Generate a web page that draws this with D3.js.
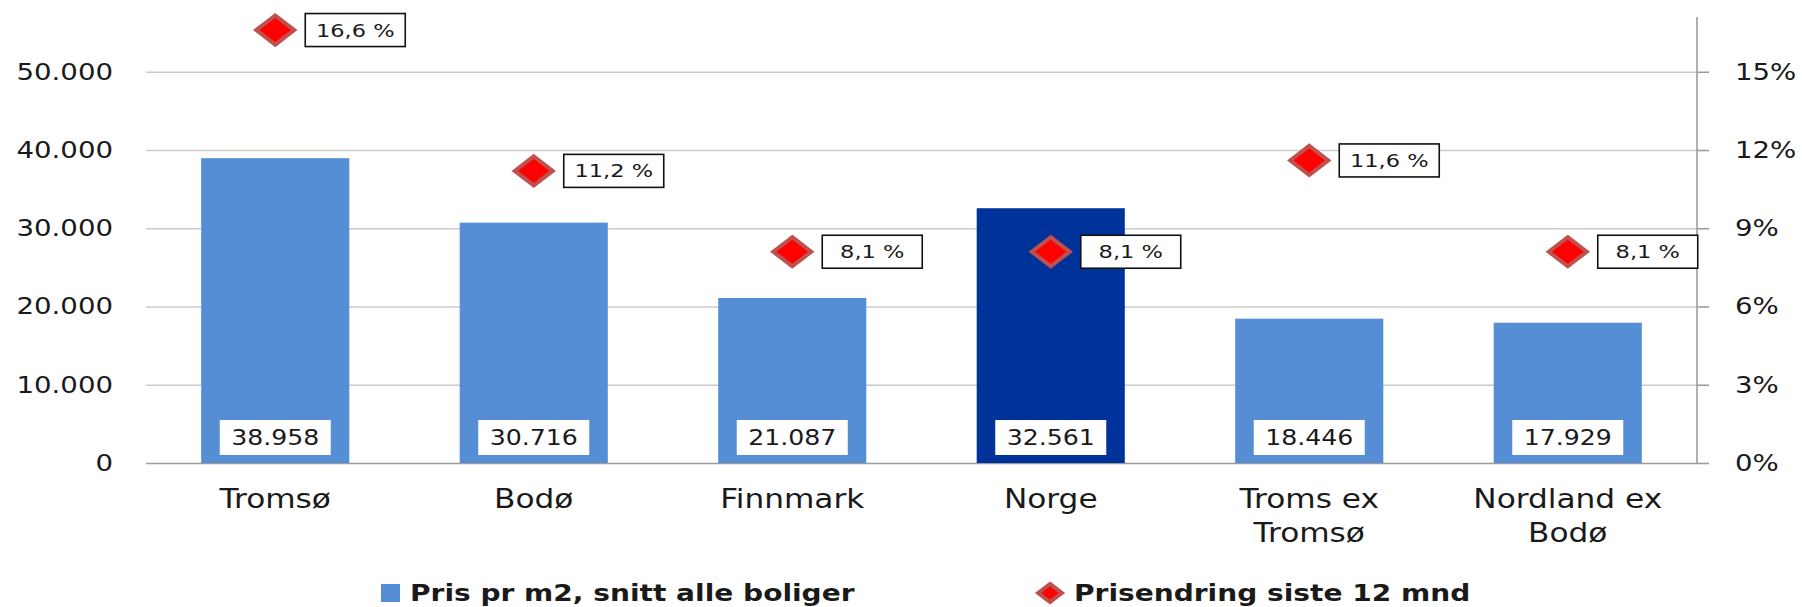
<!DOCTYPE html>
<html>
<head>
<meta charset="utf-8">
<script src="https://cdn.jsdelivr.net/npm/d3@7"></script>
<style>
  html, body { margin: 0; padding: 0; background: #fff; }
  svg { display: block; }
  text { fill: #1a1a1a; }
</style>
</head>
<body>
<svg id="chart" width="1802" height="607"></svg>
<script>
// data
const categories = ["Tromsø", "Bodø", "Finnmark", "Norge", "Troms ex\nTromsø", "Nordland ex\nBodø"];
const prices = [38958, 30716, 21087, 32561, 18446, 17929];
const changes = [0.166, 0.112, 0.081, 0.081, 0.116, 0.081];
const highlight = ["Norge"];
const leftTicks = [0, 10000, 20000, 30000, 40000, 50000];
const rightTicks = [0, 0.03, 0.06, 0.09, 0.12, 0.15];
const legendLabels = ["Pris pr m2, snitt alle boliger", "Prisendring siste 12 mnd"];

const W = 1802, H = 607;
const m = { left: 146, right: W - 1697, top: 17, bottom: H - 463 };
const svg = d3.select("#chart");

const BAR = "#558ed5", BAR_HI = "#003399";
const DIA_FILL = "#ff0000", DIA_STROKE = "#c0504d";
const SX = 1.2; // reference is stretched sideways

const locale = d3.formatLocale({ decimal: ",", thousands: ".", grouping: [3], currency: ["", " kr"] });
const fmtNum = locale.format(",d");
const fmtPct = locale.format(".1f");

const x = d3.scaleBand().domain(categories)
    .range([m.left, W - m.right]).paddingInner(0.427).paddingOuter(0.2135);
const y = d3.scaleLinear().domain([0, 57000]).range([H - m.bottom, m.top]);
const yR = d3.scaleLinear().domain([0, 0.171]).range([H - m.bottom, m.top]);

// left axis with gridlines
const gL = svg.append("g").attr("transform", `translate(${m.left},0)`)
    .call(d3.axisLeft(y).tickValues(leftTicks).tickFormat(fmtNum)
        .tickSize(-(W - m.left - m.right)).tickPadding(33));
gL.select(".domain").remove();
gL.selectAll(".tick line").attr("stroke", d => d === 0 ? "#9c9c9c" : "#cacaca").attr("stroke-width", 1.6);
gL.selectAll(".tick text")
    .attr("font-family", "DejaVu Sans").attr("font-size", 23)
    .attr("x", -33 / SX).attr("transform", `scale(${SX},1)`);

// right axis
const gR = svg.append("g").attr("transform", `translate(${W - m.right},0)`)
    .call(d3.axisRight(yR).tickValues(rightTicks).tickFormat(d3.format(".0%"))
        .tickSize(12).tickSizeOuter(0).tickPadding(26));
gR.select(".domain").attr("stroke", "#9c9c9c").attr("stroke-width", 1.6)
    .attr("d", `M0,${m.top}V${H - m.bottom}`);
gR.selectAll(".tick line").attr("stroke", "#9c9c9c").attr("stroke-width", 1.6);
gR.selectAll(".tick text")
    .attr("font-family", "DejaVu Sans").attr("font-size", 23)
    .attr("x", 38 / SX).attr("transform", `scale(${SX},1)`);
svg.selectAll(".tick text").attr("fill", "#1a1a1a");

// bars
const rows = categories.map((c, i) => ({ c, price: prices[i], change: changes[i] }));
svg.append("g").selectAll("rect").data(rows).join("rect")
    .attr("x", d => x(d.c)).attr("width", x.bandwidth())
    .attr("y", d => y(d.price)).attr("height", d => y(0) - y(d.price))
    .attr("fill", d => highlight.includes(d.c) ? BAR_HI : BAR);

// value boxes inside the bars
const vb = svg.append("g").selectAll("g").data(rows).join("g")
    .attr("transform", d => `translate(${x(d.c) + x.bandwidth() / 2},${y(0) - 8 - 17.5})`);
vb.append("rect").attr("x", -55.5).attr("y", -17.5).attr("width", 111).attr("height", 35).attr("fill", "#fff");
vb.append("text").attr("text-anchor", "middle").attr("dy", "0.36em")
    .attr("font-family", "DejaVu Sans").attr("font-size", 21)
    .attr("transform", `scale(${SX},1)`).text(d => fmtNum(d.price));

// diamonds
const diamond = d3.symbol(d3.symbolSquare, 338);
function addDiamond(sel, sx, k) {
    sel.append("path").attr("d", diamond)
        .attr("transform", `scale(${sx * k},${k}) rotate(45)`)
        .attr("fill", DIA_FILL).attr("stroke", DIA_STROKE).attr("stroke-width", 4)
        .attr("vector-effect", "non-scaling-stroke");
}
const pts = svg.append("g").selectAll("g").data(rows).join("g")
    .attr("transform", d => `translate(${x(d.c) + x.bandwidth() / 2},${yR(d.change)})`);
addDiamond(pts, 1.3, 1.12);

// percent label boxes
pts.append("rect").attr("x", 30).attr("y", -16.5).attr("width", 100).attr("height", 33)
    .attr("fill", "#fff").attr("stroke", "#111").attr("stroke-width", 1.6);
pts.append("text").attr("text-anchor", "middle").attr("dy", "0.36em")
    .attr("font-family", "DejaVu Sans").attr("font-size", 18)
    .attr("transform", `translate(80,0) scale(1.25,1)`)
    .text(d => fmtPct(d.change * 100) + " %");

// category labels
const xl = svg.append("g").selectAll("text").data(categories).join("text")
    .attr("text-anchor", "middle").attr("font-family", "DejaVu Sans").attr("font-size", 26)
    .attr("transform", d => `translate(${x(d) + x.bandwidth() / 2},508) scale(${SX},1)`);
xl.selectAll("tspan").data(d => d.split("\n")).join("tspan")
    .attr("x", 0).attr("y", (d, i) => i * 34).text(d => d);

// legend
const lg = svg.append("g");
const l1 = lg.append("g").attr("transform", "translate(381,584)");
l1.append("rect").attr("width", 19).attr("height", 18).attr("fill", BAR);
l1.append("text").attr("font-family", "DejaVu Sans").attr("font-weight", "bold").attr("font-size", 23)
    .attr("transform", `translate(29,16.5) scale(1.22,1)`).text(legendLabels[0]);
const l2 = lg.append("g").attr("transform", "translate(1050,593)");
addDiamond(l2, 1.3, 0.7);
l2.append("text").attr("font-family", "DejaVu Sans").attr("font-weight", "bold").attr("font-size", 23)
    .attr("transform", `translate(24,7.5) scale(1.22,1)`).text(legendLabels[1]);
</script>
</body>
</html>
